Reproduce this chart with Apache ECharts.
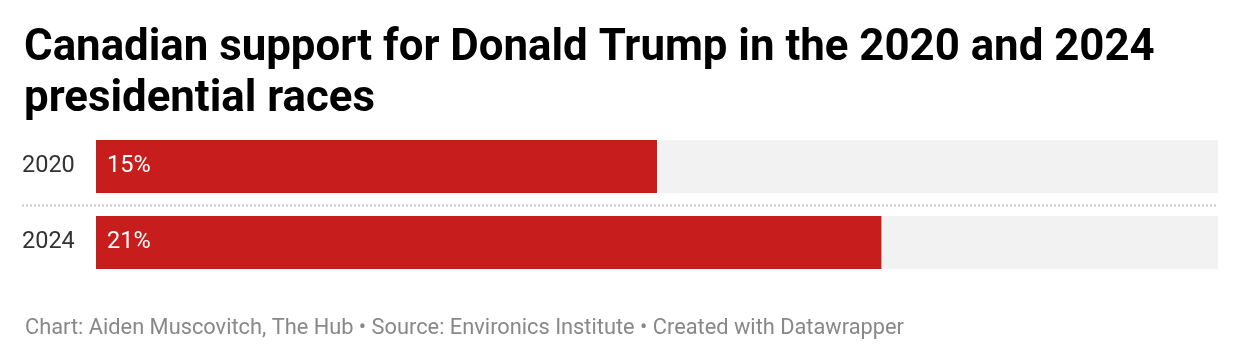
<!DOCTYPE html>
<html>
<head>
<meta charset="utf-8">
<style>
  html, body { margin: 0; padding: 0; background: #fff; }
  #chart { width: 1240px; height: 356px; }
</style>
<script src="https://cdn.jsdelivr.net/npm/echarts@6/dist/echarts.min.js"></script>
</head>
<body>
<div id="chart"></div>
<script>
const titleText = "Canadian support for Donald Trump in the 2020 and 2024\npresidential races";
const footerText = "Chart: Aiden Muscovitch, The Hub \u2022 Source: Environics Institute \u2022 Created with Datawrapper";
const categories = ["2020", "2024"];
const supportValues = [15, 21];
const axisMax = 30;

const chart = echarts.init(document.getElementById('chart'), null, { renderer: 'canvas' });
const FONT = 'Roboto, "Noto Sans", sans-serif';

chart.setOption({
  animation: false,
  backgroundColor: '#ffffff',
  title: [
    {
      text: titleText,
      left: 19, top: 19,
      textStyle: { fontFamily: FONT, fontSize: 43.8, fontWeight: 'bold', color: '#000', lineHeight: 51 }
    },
    {
      text: footerText,
      left: 20, top: 312,
      textStyle: { fontFamily: FONT, fontSize: 21.8, fontWeight: 'normal', color: '#888', lineHeight: 24 }
    }
  ],
  grid: { left: 96, right: 22, top: 128.5, height: 152, containLabel: false },
  xAxis: {
    type: 'value', min: 0, max: axisMax,
    show: false
  },
  yAxis: {
    type: 'category', data: categories, inverse: true,
    axisLine: { show: false }, axisTick: { show: false }, splitLine: { show: false },
    axisLabel: { align: 'left', margin: 74, fontFamily: FONT, fontSize: 23.5, color: '#333', padding: [2, 0, 0, 0] }
  },
  series: [{
    type: 'bar',
    data: supportValues,
    barWidth: 53,
    itemStyle: { color: '#c71e1d' },
    showBackground: true,
    backgroundStyle: { color: '#f2f2f2' },
    label: {
      show: true, position: 'insideLeft', distance: 11,
      formatter: '{c}%', color: '#fff', fontFamily: FONT, fontSize: 23.5, padding: [2, 0, 0, 0]
    },
    silent: true
  }]
});

// dotted separator between the two rows
const y0 = chart.convertToPixel({ yAxisIndex: 0 }, categories[0]);
const y1 = chart.convertToPixel({ yAxisIndex: 0 }, categories[1]);
const sepY = Math.round((y0 + y1) / 2) + 0.5;
chart.setOption({
  graphic: [{
    type: 'line',
    shape: { x1: 22, y1: sepY, x2: 1218, y2: sepY },
    style: { stroke: '#cccccc', lineWidth: 2, lineDash: [2, 2] },
    silent: true
  }]
});
</script>
</body>
</html>
